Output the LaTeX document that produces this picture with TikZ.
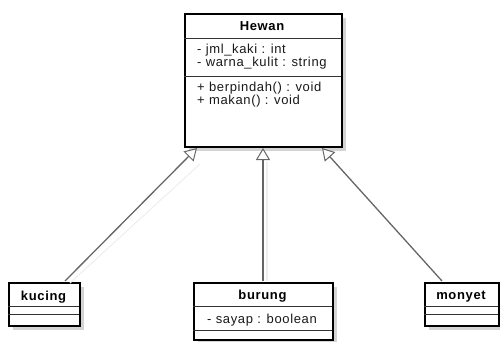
\documentclass[tikz,border=0pt]{standalone}
\usepackage{fontspec}
\setmainfont{Liberation Sans}[LetterSpace=5]
\usetikzlibrary{arrows.meta,calc}
\begin{document}
\begin{tikzpicture}[x=1pt,y=-1pt,
  cls/.style={draw=black, line width=1.8pt, fill=white, inner sep=0pt, anchor=north west},
  shade/.style={fill=black!17},
  sepline/.style={line width=0.9pt, draw=black!80},
  ttl/.style={font=\bfseries\fontsize{13}{15}\selectfont, inner sep=0pt, anchor=base},
  attr/.style={font=\fontsize{13}{15}\selectfont, anchor=base west, inner sep=0pt, text=black!90},
  gen/.style={draw=black!60, line width=1.3pt, -{Triangle[length=12pt,width=14pt,fill=white,line width=1pt]}},
  genshadow/.style={draw=black!6, line width=1.2pt}
]
\useasboundingbox (0,0) rectangle (500,342);
% shadows
\fill[shade] (189,18) rectangle (346,151);
\fill[shade] (13,287) rectangle (84,330);
\fill[shade] (198,287) rectangle (337,342);
\fill[shade] (429,287) rectangle (500,330);
% boxes
\node[cls, minimum width=157pt, minimum height=133pt] (hewan) at (184,13) {};
\node[cls, minimum width=71pt, minimum height=43pt] (kucing) at (8,282) {};
\node[cls, minimum width=139pt, minimum height=57pt] (burung) at (193,282) {};
\node[cls, minimum width=74pt, minimum height=43pt] (monyet) at (424,282) {};
% separators
\draw[sepline] (184,38) -- (341,38);
\draw[sepline] (184,76) -- (341,76);
\draw[sepline] (8,306) -- (79,306);
\draw[sepline] (8,314) -- (79,314);
\draw[sepline] (193,306) -- (332,306);
\draw[sepline] (193,330) -- (332,330);
\draw[sepline] (424,306) -- (498,306);
\draw[sepline] (424,314) -- (498,314);
% texts
\node[ttl] (thewan) at (262,31) {Hewan};
\node[attr] (a1) at (197,54) {- jml\_kaki : int};
\node[attr] (a2) at (197,67) {- warna\_kulit : string};
\node[attr] (m1) at (197,92) {+ berpindah() : void};
\node[attr] (m2) at (197,105) {+ makan() : void};
\node[ttl] (tkucing) at (43.5,300) {kucing};
\node[ttl] (tburung) at (262.5,299) {burung};
\node[attr] (s1) at (207,323) {- sayap : boolean};
\node[ttl] (tmonyet) at (461,299) {monyet};
% connection points
\coordinate (kc) at (65,281);
\coordinate (bc) at (263,281);
\coordinate (mc) at (442,281);
\coordinate (hk) at (197,148);
\coordinate (hb) at (263,148);
\coordinate (hm) at (322,148);
% connector shadows
\draw[genshadow] ($(kc)+(5,2)$) -- ($(hk)+(3,16)$);
\draw[genshadow] ($(bc)+(4,0)$) -- ($(hb)+(4,14)$);
% connectors
\draw[gen] (kc) -- (hk);
\draw[gen] (bc) -- (hb);
\draw[gen] (mc) -- (hm);
\end{tikzpicture}
\end{document}
